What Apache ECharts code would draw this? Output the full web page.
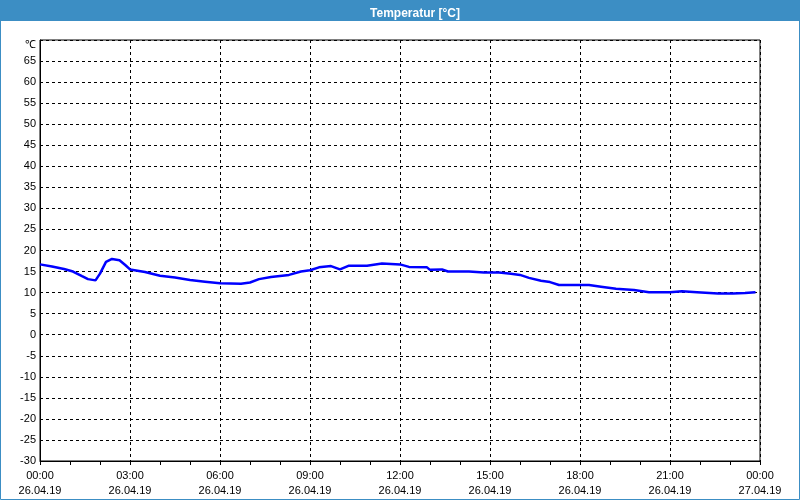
<!DOCTYPE html>
<html>
<head>
<meta charset="utf-8">
<script src="https://cdn.jsdelivr.net/npm/echarts@6/dist/echarts.min.js"></script>
<style>
html,body{margin:0;padding:0;background:#fff;}
#c{width:800px;height:500px;}
</style>
</head>
<body>
<div id="c"></div>
<script>
// Data (hours since 26.04.19 00:00, temperature °C)
var hours = [0.0,0.4,0.8,1.1,1.4,1.6,1.85,2.0,2.2,2.4,2.65,2.85,3.0,3.5,4.0,4.5,5.0,5.5,6.0,6.7,7.0,7.3,7.7,8.3,8.7,9.0,9.3,9.7,10.0,10.3,10.9,11.4,12.0,12.3,12.9,13.0,13.4,13.6,14.3,14.8,15.3,15.7,16.0,16.3,16.7,17.0,17.3,18.3,18.7,19.2,19.8,20.3,21.0,21.4,21.9,22.6,23.1,23.5,23.85];
var temps = [16.7,16.2,15.6,15.0,13.9,13.2,12.9,14.5,17.3,18.0,17.7,16.5,15.5,14.9,14.0,13.6,13.0,12.6,12.2,12.1,12.4,13.2,13.7,14.2,15.0,15.3,16.0,16.3,15.5,16.4,16.4,16.9,16.7,16.1,16.0,15.4,15.5,15.0,15.0,14.8,14.8,14.5,14.2,13.5,12.8,12.5,11.8,11.8,11.4,10.9,10.6,10.1,10.1,10.3,10.1,9.8,9.8,9.9,10.1];
var timeLabels = ['00:00','03:00','06:00','09:00','12:00','15:00','18:00','21:00','00:00'];
var dateLabels = ['26.04.19','26.04.19','26.04.19','26.04.19','26.04.19','26.04.19','26.04.19','26.04.19','27.04.19'];
var titleText = 'Temperatur [°C]';
var unitLabel = '℃';

var seriesData = hours.map(function(h,i){return [h,temps[i]];});
var font = 'Liberation Sans';
var chart = echarts.init(document.getElementById('c'));
chart.setOption({
  animation:false,
  backgroundColor:'#ffffff',
  graphic:[
    {type:'rect',shape:{x:0,y:0,width:800,height:21},style:{fill:'#3c8ec4'},z:0},
    {type:'rect',shape:{x:0.5,y:0.5,width:799,height:499},style:{fill:'none',stroke:'#3c8ec4',lineWidth:1},z:0}
  ],
  title:{
    text:titleText,left:410,top:3,textAlign:'center',
    textStyle:{color:'#ffffff',fontFamily:font,fontSize:12,fontWeight:'bold'}
  },
  grid:{left:40,right:40,top:40,bottom:39,show:true,borderColor:'#000',borderWidth:1,backgroundColor:'transparent'},
  xAxis:{
    type:'value',min:0,max:24,interval:3,
    axisLine:{show:true,onZero:false,lineStyle:{color:'#000',width:1}},
    axisTick:{show:true,length:4,lineStyle:{color:'#000'}},
    minorTick:{show:true,splitNumber:3,length:4,lineStyle:{color:'#000'}},
    splitLine:{show:true,lineStyle:{color:'#000',type:[3,3],width:1}},
    axisLabel:{
      color:'#000',fontFamily:font,fontSize:11,lineHeight:15,margin:7,
      formatter:function(v){var i=Math.round(v/3);return timeLabels[i]+'\n'+dateLabels[i];}
    }
  },
  yAxis:{
    type:'value',min:-30,max:70,interval:5,
    axisLine:{show:true,onZero:false,lineStyle:{color:'#000',width:1}},
    axisTick:{show:false},
    splitLine:{show:true,lineStyle:{color:'#000',type:[3,3],width:1}},
    axisLabel:{
      color:'#000',fontFamily:font,fontSize:11,margin:4,
      formatter:function(v){return v===70?'{u|'+unitLabel+'}':String(v);},
      rich:{u:{padding:[10,0,0,0],fontFamily:font,fontSize:11,color:'#000'}}
    }
  },
  series:[{
    type:'line',data:seriesData,showSymbol:false,symbol:'none',
    lineStyle:{color:'#0000ff',width:2.5},
    z:5
  }]
});
</script>
</body>
</html>
